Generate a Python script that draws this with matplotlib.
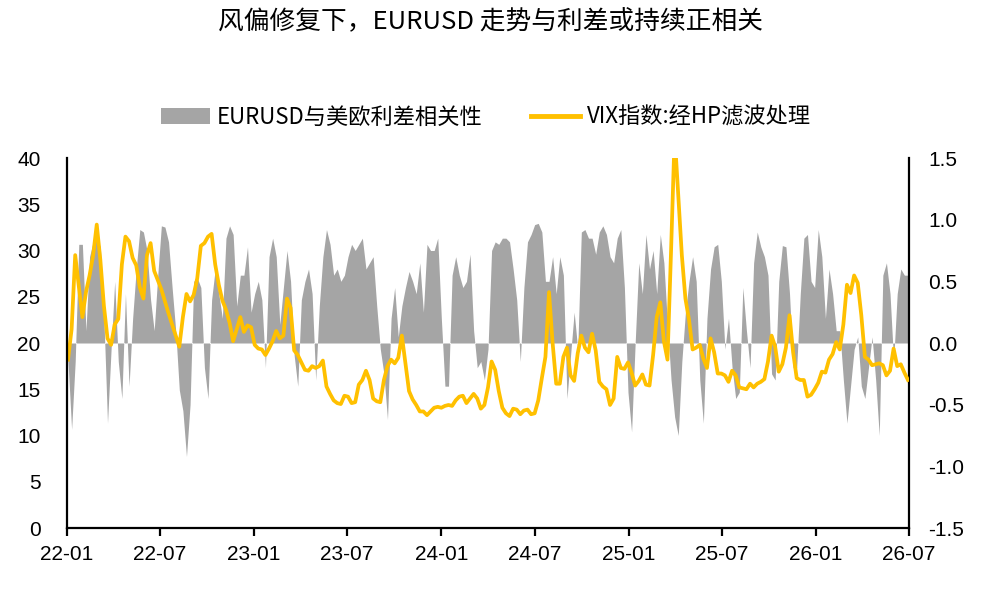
import matplotlib
matplotlib.use('Agg')
import matplotlib.pyplot as plt
import matplotlib.dates as mdates
from matplotlib.patches import Patch
from matplotlib.lines import Line2D
from matplotlib.ticker import FormatStrFormatter
import pandas as pd
from datetime import datetime

plt.rcParams['font.family'] = ['Liberation Sans', 'Noto Sans CJK SC', 'DejaVu Sans']
plt.rcParams['axes.unicode_minus'] = False

title = '风偏修复下，EURUSD 走势与利差或持续正相关'
label_corr = 'EURUSD与美欧利差相关性'
label_vix = 'VIX指数:经HP滤波处理'
start_date = '2022-01-03'

vix = [18.2, 21.5, 29.5, 26.1, 22.8, 25.5, 27.3, 29.5, 32.8, 29.0, 24.0, 20.5, 19.8, 22.0, 22.6, 28.5,
       31.5, 31.0, 29.2, 28.4, 26.0, 24.8, 29.5, 30.8, 27.8, 26.8, 25.8, 24.5, 23.2, 22.0, 20.8, 19.6,
       22.8, 25.3, 24.5, 25.2, 27.0, 30.5, 30.8, 31.5, 31.8, 28.5, 26.3, 24.6, 23.6, 22.2, 20.2,
       21.5, 22.8, 21.2, 21.9, 21.7, 19.8, 19.4, 19.3, 18.7, 19.4, 20.2, 21.3, 20.5, 20.8, 24.8, 23.8,
       19.2, 18.7, 17.9, 17.1, 17.0, 17.5, 17.3, 17.5, 18.1, 15.3, 14.5, 13.8, 13.5, 13.4, 14.3, 14.2,
       13.5, 13.6, 15.5, 16.0, 17.0, 16.0, 14.0, 13.7, 13.6, 16.0, 17.5, 18.2, 17.8,
       18.4, 20.8, 17.8, 14.8, 13.9, 13.3, 12.6, 12.6, 12.2, 12.6, 13.0, 13.1, 13.0, 13.2, 13.3, 13.2,
       13.8, 14.2, 14.3, 13.5, 14.0, 14.5, 14.0, 12.9, 13.3, 15.2, 18.0, 17.1, 14.8, 13.0, 12.4, 12.1,
       12.9, 12.8, 12.3, 12.7, 12.8, 12.3, 12.4, 13.8, 16.2, 18.5, 25.5, 20.0, 15.6, 15.6, 18.5,
       19.5, 16.5, 15.9, 18.9, 20.8, 19.5, 19.0, 21.0, 19.2, 15.8, 15.3, 15.0, 13.3, 14.0, 18.5, 17.3,
       17.2, 17.9, 16.8, 15.4, 15.9, 16.6, 15.5, 15.4, 18.7, 22.8, 24.4, 20.2, 18.2, 30.0, 42.5, 36.0,
       29.5, 24.8, 22.5, 19.3, 19.5, 19.8, 18.3, 17.3, 20.5, 19.0, 16.7, 16.7, 16.5, 15.8,
       17.0, 16.5, 15.2, 15.1, 15.0, 15.6, 15.2, 15.6, 15.8, 16.1, 18.0, 20.8, 19.6, 16.9, 17.7, 19.5,
       23.0, 19.0, 16.2, 16.0, 16.0, 14.2, 14.4, 15.0, 15.7, 16.9, 16.8, 18.2, 18.8, 20.1, 19.3, 22.0,
       26.3, 25.4, 27.3, 26.5, 23.0, 18.5, 18.2, 17.6, 17.7, 17.8, 17.6, 16.5, 17.0, 19.4, 17.5, 17.7,
       16.8, 16.0]

corr = [-0.15, -0.7, -0.15, 0.8, 0.8, 0.1, 0.7, 0.82, 0.85, 0.78, 0.2, -0.65, -0.05, 0.5, -0.15, -0.45,
        0.4, -0.35, 0.2, 0.6, 0.92, 0.9, 0.75, 0.35, 0.1, 0.55, 0.95, 0.94, 0.82, 0.45, 0.1, -0.38,
        -0.55, -0.92, -0.5, 0.5, 0.53, 0.45, -0.2, -0.45, 0.35, 0.6, 0.4, 0.2, 0.85, 0.95, 0.88,
        0.3, 0.55, 0.55, 0.78, 0.25, 0.4, 0.5, 0.35, -0.2, 0.7, 0.85, 0.7, 0.15, 0.45, 0.75,
        0.5, -0.1, -0.35, 0.35, 0.5, 0.6, 0.4, -0.3, 0.3, 0.7, 0.92, 0.8, 0.55, 0.6, 0.5,
        0.55, 0.7, 0.8, 0.75, 0.8, 0.85, 0.6, 0.65, 0.7, 0.3, -0.05, -0.25, -0.62, 0.2, 0.45,
        0.05, 0.3, 0.45, 0.58, 0.5, 0.4, 0.65, 0.25, 0.8, 0.75, 0.75, 0.85, 0.2, -0.35, -0.35,
        0.55, 0.7, 0.55, 0.45, 0.5, 0.72, 0.1, -0.2, -0.15, -0.3, -0.05, 0.75, 0.82, 0.8, 0.85,
        0.85, 0.82, 0.6, 0.35, -0.15, 0.45, 0.82, 0.88, 0.96, 0.97, 0.9, 0.5, 0.5, 0.7, 0.4, 0.7, 0.55,
        -0.45, -0.1, 0.25, -0.05, 0.9, 0.92, 0.85, 0.85, 0.72, 0.9, 0.95, 0.88, 0.7, 0.65, 0.85,
        0.92, 0.45, -0.4, -0.72, 0.0, 0.65, 0.4, 0.88, 0.6, 0.75, 0.4, 0.88, 0.65, 0.15, -0.3,
        -0.6, -0.75, -0.15, 0.25, 0.5, 0.7, 0.5, -0.3, -0.65, 0.2, 0.6, 0.78, 0.8, 0.5, -0.05, 0.2,
        -0.2, -0.45, -0.4, 0.45, 0.1, -0.2, 0.65, 0.9, 0.78, 0.7, 0.55, -0.25, -0.3, 0.5, 0.79,
        0.78, 0.4, -0.2, -0.2, 0.4, 0.85, 0.88, 0.5, 0.45, 0.92, 0.7, 0.2, 0.6, 0.4, 0.1,
        0.1, -0.3, -0.65, -0.35, -0.05, 0.05, -0.35, -0.45, -0.2, 0.05, -0.3, -0.75, 0.55, 0.65, 0.4,
        -0.15, 0.4, 0.6, 0.55, 0.55]

left_ticks = [0, 5, 10, 15, 20, 25, 30, 35, 40]
right_ticks = [-1.5, -1.0, -0.5, 0.0, 0.5, 1.0, 1.5]

dates = pd.date_range(start_date, periods=len(vix), freq='7D')

W, H = 982, 599
fig = plt.figure(figsize=(W / 100, H / 100), dpi=100)
ax = fig.add_axes([67 / W, 1 - 528 / H, (909 - 67) / W, (528 - 158) / H])
ax2 = ax.twinx()

gray = '#A5A5A5'
yellow = '#FFC000'

ax2.fill_between(dates, 0, corr, color=gray, linewidth=0, interpolate=True)
ax.plot(dates, vix, color=yellow, lw=2.7, solid_joinstyle='round')

ax.set_zorder(ax2.get_zorder() + 1)
ax.patch.set_visible(False)

ax.set_xlim(datetime(2022, 1, 1), datetime(2026, 7, 1))
ax.set_ylim(0, 40)
ax2.set_ylim(-1.5, 1.5)
ax.set_yticks(left_ticks)
ax2.set_yticks(right_ticks)
ax2.yaxis.set_major_formatter(FormatStrFormatter('%.1f'))

ax.xaxis.set_major_locator(mdates.MonthLocator(bymonth=[1, 7]))
ax.xaxis.set_major_formatter(mdates.DateFormatter('%y-%m'))

for a in (ax, ax2):
    for s in a.spines.values():
        s.set_visible(False)
ax.spines['left'].set_visible(True)
ax.spines['bottom'].set_visible(True)
ax2.spines['right'].set_visible(True)
for s in (ax.spines['left'], ax.spines['bottom'], ax2.spines['right']):
    s.set_linewidth(1.6)
    s.set_color('black')

ax.tick_params(axis='y', length=0, pad=19, labelsize=15)
ax2.tick_params(axis='y', length=0, pad=14, labelsize=15)
ax.tick_params(axis='x', direction='out', length=6, width=1.6, pad=6, labelsize=15)

fig.text(0.5, 1 - 22 / H, title, ha='center', va='center', fontsize=18.5,
         family=['Noto Sans CJK SC', 'DejaVu Sans'])

handles = [Patch(facecolor=gray, edgecolor='none'), Line2D([0], [0], color=yellow, lw=3.5)]
fig.legend(handles, [label_corr, label_vix], loc='center', bbox_to_anchor=(486 / W, 1 - 117 / H),
           ncol=2, frameon=False, handlelength=2.2, handleheight=0.7, handletextpad=0.3,
           columnspacing=2.2, prop={'family': ['Noto Sans CJK SC', 'DejaVu Sans'], 'size': 16})

fig.savefig('out.png', dpi=100)
